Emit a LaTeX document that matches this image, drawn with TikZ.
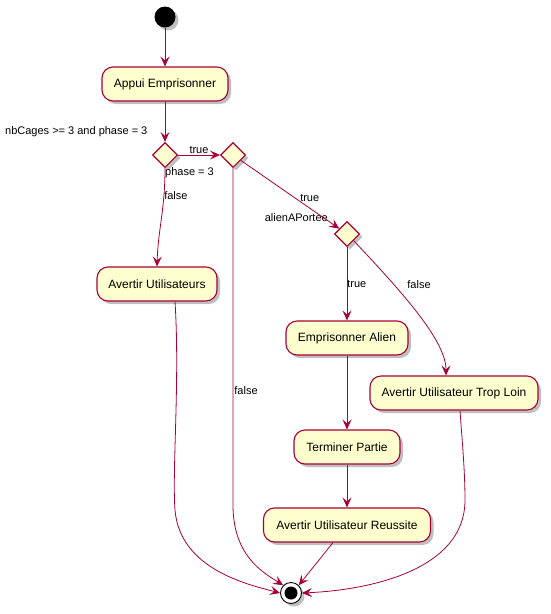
\documentclass[tikz,border=0pt]{standalone}
\usepackage{fontspec}
\setmainfont{Liberation Sans}
\usetikzlibrary{shapes.geometric,arrows.meta,shadows}
\definecolor{umlborder}{HTML}{A80036}
\definecolor{umlfill}{HTML}{FEFECE}
\tikzset{
  shade/.style={drop shadow={shadow xshift=3pt,shadow yshift=-3pt,fill=black,opacity=0.25}},
  activity/.style={draw=umlborder,fill=umlfill,line width=1.1pt,rounded corners=11pt,
    minimum height=34pt,inner xsep=9pt,font=\fontsize{12}{14}\selectfont,shade},
  choice/.style={diamond,draw=umlborder,fill=umlfill,line width=1.1pt,inner sep=0pt,
    minimum width=25pt,minimum height=25pt,shade},
  flow/.style={draw=umlborder,line width=0.8pt,-{Stealth[length=10pt,width=9pt,inset=4pt]}},
  lbl/.style={font=\fontsize{11}{13}\selectfont,inner sep=1pt},
}
\begin{document}
\begin{tikzpicture}[x=1pt,y=-1pt]
\useasboundingbox (0,0) rectangle (550,614);
% start / end markers
\node[circle,fill=black,minimum size=21pt,inner sep=0pt,shade] (start) at (165,17) {};
\node[circle,draw=black,line width=0.9pt,fill=white,minimum size=21pt,inner sep=0pt,shade] (stop) at (291,593) {};
\fill[black] (stop.center) circle (6.5pt);

% activities
\node[activity,minimum width=126pt] (appui) at (165,84) {Appui Emprisonner};
\node[activity,minimum width=120pt] (avU) at (157,284) {Avertir Utilisateurs};
\node[activity,minimum width=122pt] (emAlien) at (347,338) {Emprisonner Alien};
\node[activity,minimum width=168pt] (trop) at (454,393) {Avertir Utilisateur Trop Loin};
\node[activity,minimum width=106pt] (term) at (347,447) {Terminer Partie};
\node[activity,minimum width=167pt] (reuss) at (347,525) {Avertir Utilisateur Reussite};

% decisions
\node[choice] (d1) at (165,155) {};
\node[choice] (d2) at (233,155) {};
\node[choice] (d3) at (347,234) {};

% conditions
\node[lbl,anchor=west] (c1) at (4,132) {nbCages >= 3 and phase = 3};
\node[lbl,anchor=west] (c2) at (164,173) {phase = 3};
\node[lbl,anchor=east] (c3) at (329,218) {alienAPortee};

% flows
\draw[flow] (start) -- (appui);
\draw[flow] (appui) -- (d1);
\draw[flow] (d1) -- node[lbl,above,pos=0.5] {true} (d2);
\draw[flow] (d1.south) .. controls (165,210) and (158,230) .. node[lbl,pos=0.25,right,xshift=-1pt] {false} (avU.north);
\draw[flow] (d2) -- node[lbl,above right,pos=0.6,xshift=-1pt,yshift=-2pt] {true} (d3);
\draw[flow] (d3) -- node[lbl,anchor=west,pos=0.5,xshift=-1pt] {true} (emAlien);
\draw[flow] (d3.south east) .. controls (400,290) and (446,340) .. node[lbl,pos=0.3,right,xshift=12pt] {false} (trop.north -| 446,0);
\draw[flow] (emAlien) -- (term);
\draw[flow] (term) -- (reuss);
\draw[flow] (reuss.south -| 333,0) -- (stop.north east);
\draw[flow] (avU.south -| 175,0) .. controls (180,380) and (172,470) .. (175,510)
  .. controls (180,570) and (250,585) .. (stop.west);
\draw[flow] (d2.south) -- node[lbl,right,pos=0.66] {false} (233,505)
  .. controls (233,555) and (262,572) .. (stop.north west);
\draw[flow] (trop.south -| 460,0) .. controls (462,440) and (465,470) .. (465,500)
  .. controls (465,570) and (370,590) .. (stop.east);
\end{tikzpicture}
\end{document}
